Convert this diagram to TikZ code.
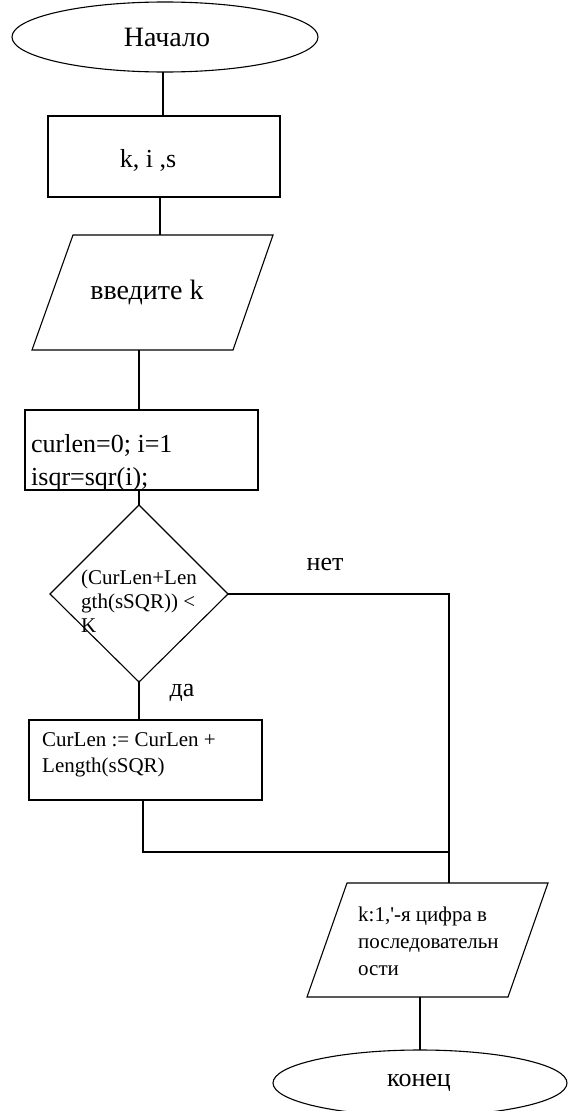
\documentclass[tikz,border=0pt]{standalone}
\usepackage{fontspec}
\setmainfont{Liberation Serif}[Ligatures=TeXOff]
\usetikzlibrary{shapes.geometric}
\tikzset{
  ln/.style={line width=1.3pt, line join=miter},
  shp/.style={draw, line width=1.1pt, inner sep=0pt},
  big/.style={font=\fontsize{26}{33}\selectfont, inner sep=0pt},
  bigger/.style={font=\fontsize{28}{33}\selectfont, inner sep=0pt},
  small/.style={font=\fontsize{21}{24}\selectfont, inner sep=0pt, align=left, anchor=west},
}
\begin{document}
\begin{tikzpicture}[x=1pt,y=-1pt]
\useasboundingbox (0,0) rectangle (572,1111);
% start
\node[shp, ellipse, minimum width=306pt, minimum height=70pt] (start) at (165,37) {};
\node[bigger] (tstart) at (167,37) {Начало};
% vars box
\node[shp, rectangle, minimum width=232pt, minimum height=81pt] (vars) at (164,156.5) {};
\node[big] (tvars) at (148,160) {k, i ,s};
% input parallelogram
\coordinate (inTL) at (73,235); \coordinate (inTR) at (273,235);
\coordinate (inBR) at (233,350); \coordinate (inBL) at (32,350);
\draw[shp] (inTL) -- (inTR) -- (inBR) -- (inBL) -- cycle;
\node[bigger] (tin) at (147,292) {введите k};
% init box
\node[shp, rectangle, minimum width=233pt, minimum height=80pt] (init) at (141.5,450) {};
\node[big, align=left, anchor=west] (tinit) at (31,463) {curlen=0; i=1\\isqr=sqr(i);};
% diamond
\coordinate (dT) at (139,505); \coordinate (dR) at (228,594);
\coordinate (dB) at (139,682); \coordinate (dL) at (50,594);
\draw[shp] (dT) -- (dR) -- (dB) -- (dL) -- cycle;
\node[small] (tcond) at (81,601) {(CurLen+Len\\gth(sSQR)) <\\K};
% body box
\node[shp, rectangle, minimum width=233pt, minimum height=80pt] (body) at (145.5,760) {};
\node[small, font=\fontsize{21}{26}\selectfont] (tbody) at (42,755) {CurLen := CurLen +\\Length(sSQR)};
% output parallelogram
\coordinate (oTL) at (347,883); \coordinate (oTR) at (548,883);
\coordinate (oBR) at (508,997); \coordinate (oBL) at (307,997);
\draw[shp] (oTL) -- (oTR) -- (oBR) -- (oBL) -- cycle;
\node[small, font=\fontsize{21}{27}\selectfont] (tout) at (358,941) {k:1,'-я цифра в\\последовательн\\ости};
% end
\node[shp, ellipse, minimum width=294pt, minimum height=66pt] (stop) at (420,1083) {};
\node[big] (tstop) at (419,1083) {конец};
% labels
\node[big] (tno) at (325,564) {нет};
\node[big] (tyes) at (182,693) {да};
% connection points
\coordinate (c1a) at (163,72); \coordinate (c1b) at (163,116);
\coordinate (c2a) at (160,197); \coordinate (c2b) at (160,235);
\coordinate (c3a) at (139,350); \coordinate (c3b) at (139,410);
\coordinate (c4a) at (139,490);
\coordinate (c5b) at (139,720);
\coordinate (noEnd) at (449,594); \coordinate (oTop) at (449,883);
\coordinate (bBot) at (143,800); \coordinate (bCorner) at (143,852);
\coordinate (merge) at (449,852);
\coordinate (oBot) at (420,997); \coordinate (eTop) at (420,1050);
% connectors
\draw[ln] (c1a) -- (c1b);
\draw[ln] (c2a) -- (c2b);
\draw[ln] (c3a) -- (c3b);
\draw[ln] (c4a) -- (dT);
\draw[ln] (dB) -- (c5b);
\draw[ln] (dR) -- (noEnd) -- (oTop);
\draw[ln] (bBot) -- (bCorner) -- (merge);
\draw[ln] (oBot) -- (eTop);
\end{tikzpicture}
\end{document}
